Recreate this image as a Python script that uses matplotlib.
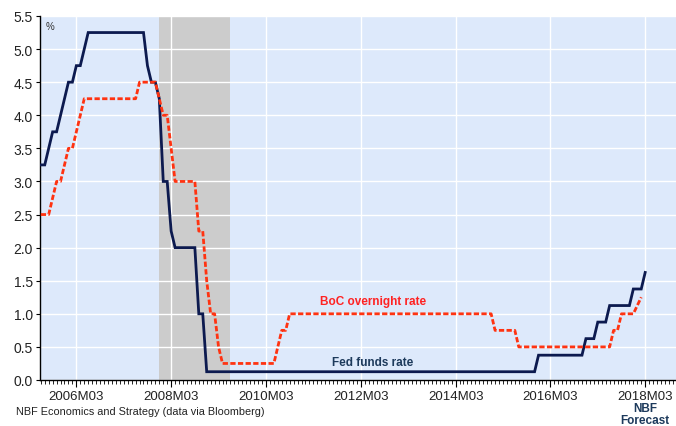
import matplotlib
matplotlib.use("Agg")
import matplotlib.pyplot as plt
import matplotlib.transforms as mtransforms
from matplotlib.ticker import MultipleLocator, FixedLocator

plt.rcParams['font.family'] = ['Liberation Sans', 'DejaVu Sans']

# policy rates, month-end vertices (flat stretches given by their ends)
fed_months = ["2005-06", "2005-07", "2005-08", "2005-09", "2005-10", "2005-11", "2005-12",
              "2006-01", "2006-02", "2006-03", "2006-04", "2006-05", "2006-06",
              "2007-08", "2007-09", "2007-10", "2007-11", "2007-12",
              "2008-01", "2008-02", "2008-03", "2008-04", "2008-09", "2008-10", "2008-11", "2008-12",
              "2015-11", "2015-12", "2016-11", "2016-12", "2017-02", "2017-03", "2017-05",
              "2017-06", "2017-11", "2017-12", "2018-02", "2018-03"]
fed_rate = [3.25, 3.25, 3.5, 3.75, 3.75, 4.0, 4.25,
            4.5, 4.5, 4.75, 4.75, 5.0, 5.25,
            5.25, 4.75, 4.5, 4.5, 4.25,
            3.0, 3.0, 2.25, 2.0, 2.0, 1.0, 1.0, 0.125,
            0.125, 0.375, 0.375, 0.625, 0.625, 0.875, 0.875,
            1.125, 1.125, 1.375, 1.375, 1.625]

boc_months = ["2005-06", "2005-08", "2005-09", "2005-10", "2005-11", "2005-12",
              "2006-01", "2006-02", "2006-03", "2006-04", "2006-05",
              "2007-06", "2007-07", "2007-11", "2007-12",
              "2008-01", "2008-02", "2008-03", "2008-04", "2008-09", "2008-10", "2008-11", "2008-12",
              "2009-01", "2009-02", "2009-03", "2009-04",
              "2010-05", "2010-06", "2010-07", "2010-08", "2010-09",
              "2014-12", "2015-01", "2015-06", "2015-07",
              "2017-06", "2017-07", "2017-08", "2017-09", "2017-12", "2018-01", "2018-02"]
boc_rate = [2.5, 2.5, 2.75, 3.0, 3.0, 3.25,
            3.5, 3.5, 3.75, 4.0, 4.25,
            4.25, 4.5, 4.5, 4.25,
            4.0, 4.0, 3.5, 3.0, 3.0, 2.25, 2.25, 1.5,
            1.0, 1.0, 0.5, 0.25,
            0.25, 0.5, 0.75, 0.75, 1.0,
            1.0, 0.75, 0.75, 0.5,
            0.5, 0.75, 0.75, 1.0, 1.0, 1.125, 1.25]

recession = ("2007-12", "2009-06")
tick_labels = ["2006M03", "2008M03", "2010M03", "2012M03", "2014M03", "2016M03", "2018M03"]


def mi(s):
    # months since 2005-06
    y, m = s.split("-")
    return (int(y) - 2005) * 12 + int(m) - 6


def lab2mi(lab):
    return mi(lab[:4] + "-" + lab[5:])


fig = plt.figure(figsize=(6.76, 4.27), dpi=100)
ax = fig.add_axes([40 / 676, 1 - 381 / 427, 1 - 40 / 676, 364 / 427])
ax.set_facecolor("#dde9fb")

ax.axvspan(mi(recession[0]), mi(recession[1]), color="#cccccc", zorder=0.3, lw=0)

ax.plot([mi(s) for s in fed_months], fed_rate, color="#0c1a4f", lw=2.0, zorder=3,
        solid_joinstyle="miter")
ax.plot([mi(s) for s in boc_months], boc_rate, color="#ff3311", lw=2.0, zorder=4,
        dashes=(1.9, 0.85), dash_capstyle="butt")

ax.set_xlim(-0.2, 160.8)
ax.set_ylim(0, 5.5)
ax.yaxis.set_major_locator(MultipleLocator(0.5))
ax.yaxis.set_major_formatter(plt.FuncFormatter(lambda v, p: "%.1f" % v))
ax.xaxis.set_major_locator(FixedLocator([lab2mi(l) for l in tick_labels]))
ax.set_xticklabels(tick_labels)
ax.xaxis.set_minor_locator(MultipleLocator(1))

ax.grid(True, which="major", color="white", lw=1.0)
ax.set_axisbelow(True)
for s in ["top", "right"]:
    ax.spines[s].set_visible(False)
for s in ["left", "bottom"]:
    ax.spines[s].set_color("black")
    ax.spines[s].set_linewidth(1.0)

ax.tick_params(axis="x", which="major", length=5, width=0.8, labelsize=9.5,
               colors="black", labelcolor="#222222", pad=2)
ax.tick_params(axis="x", which="minor", length=3, width=0.6, colors="black")
ax.tick_params(axis="y", length=3, width=0.8, labelsize=10, labelcolor="#222222", pad=2)

ax.text(0.016, 0.972, "%", transform=ax.transAxes, fontsize=7, color="#333333",
        ha="center", va="center")
ax.text(84, 1.19, "BoC overnight rate", color="#ff2222", fontsize=8.5,
        fontweight="bold", ha="center", va="center")
ax.text(84, 0.27, "Fed funds rate", color="#1d3a5c", fontsize=8.5,
        fontweight="bold", ha="center", va="center")

# forecast note under the last tick
trans = mtransforms.blended_transform_factory(ax.transData, ax.transAxes)
ax.text(lab2mi("2018M03"), (381 - 409) / 364, "NBF", transform=trans, color="#1d3a5c",
        fontsize=8.5, fontweight="bold", ha="center", va="center")
ax.text(lab2mi("2018M03"), (381 - 421) / 364, "Forecast", transform=trans, color="#1d3a5c",
        fontsize=8.5, fontweight="bold", ha="center", va="center")

fig.text(16 / 676, 1 - 412 / 427, "NBF Economics and Strategy (data via Bloomberg)",
         fontsize=7.8, color="#222222", ha="left", va="center")

fig.savefig("out.png", dpi=100)
